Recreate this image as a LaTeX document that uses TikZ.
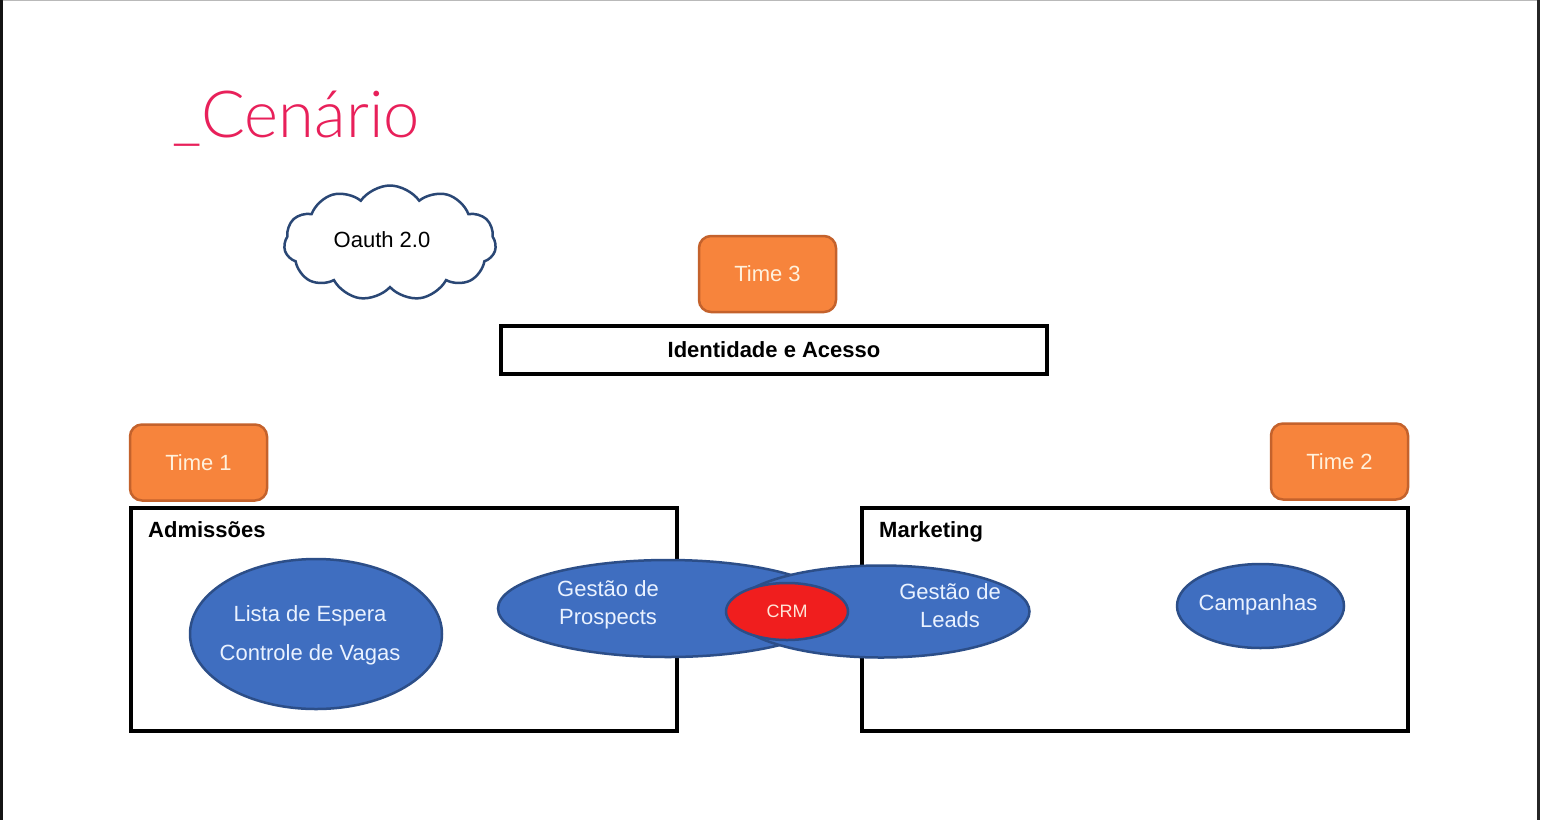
\documentclass[tikz,border=0pt]{standalone}
\usepackage{fontspec}
\setmainfont{Liberation Sans}
\newfontfamily\titlefont{Lato Light}
\usetikzlibrary{shapes.geometric,shapes.symbols}
\definecolor{titlered}{HTML}{E8205A}
\definecolor{cloudblue}{HTML}{2A4775}
\definecolor{teamorange}{HTML}{F7843C}
\definecolor{teamborder}{HTML}{C4622C}
\definecolor{teamtext}{HTML}{FFF1DC}
\definecolor{ellblue}{HTML}{3F6EC0}
\definecolor{ellborder}{HTML}{2C4E88}
\definecolor{elltext}{HTML}{EAF2FF}
\definecolor{crmred}{HTML}{F01E1E}
\definecolor{crmtext}{HTML}{FFE6D8}
\tikzset{
  teambox/.style={rectangle, rounded corners=12pt, fill=teamorange, draw=teamborder,
    line width=2.5pt, minimum width=137pt, minimum height=76pt, inner sep=0pt,
    text=teamtext, font=\fontsize{22}{22}\selectfont},
  areabox/.style={rectangle, draw=black, line width=3.2pt, fill=none, inner sep=0pt},
  arealabel/.style={anchor=base west, inner sep=0pt, font=\bfseries\fontsize{22}{22}\selectfont},
  blueell/.style={ellipse, fill=ellblue, draw=ellborder, line width=2.5pt, inner sep=0pt},
  elllabel/.style={inner sep=0pt, align=center, text=elltext, font=\fontsize{22}{28}\selectfont},
}
\begin{document}
\begin{tikzpicture}[x=1pt,y=-1pt]
\useasboundingbox (0,0) rectangle (1542,820);
\fill[white] (0,0) rectangle (1542,820);
\fill[black!92] (0,0) rectangle (2.5,820);
\fill[black!85] (1537,0) rectangle (1540,820);
\draw[gray!55, line width=1pt] (2.5,0.5) -- (1537,0.5);

% title
\node[anchor=base west, inner sep=0pt, text=titlered,
  font=\titlefont\fontsize{65}{65}\selectfont] (title) at (172,137) {\_Cenário};

% cloud
\node[cloud, cloud puffs=11, cloud puff arc=110, aspect=1.8, draw=cloudblue, fill=white,
  line width=2.5pt, minimum width=212pt, minimum height=115pt, inner sep=0pt] (oauth) at (390,243) {};
\node[inner sep=0pt, font=\fontsize{22}{22}\selectfont] (oauthT) at (382,240) {Oauth 2.0};

% teams
\node[teambox] (time3) at (767.5,274) {Time 3};
\node[teambox] (time1) at (198.5,462.5) {Time 1};
\node[teambox] (time2) at (1339.5,461.5) {Time 2};

% identidade
\node[areabox, minimum width=546pt, minimum height=48pt,
  font=\bfseries\fontsize{22}{22}\selectfont] (ident) at (774,350) {Identidade e Acesso};

% area boxes
\node[areabox, minimum width=546pt, minimum height=223pt] (adm) at (404,619.5) {};
\node[areabox, minimum width=546pt, minimum height=223pt] (mkt) at (1135,619.5) {};
\node[arealabel] (admL) at (148,537) {Admissões};
\node[arealabel] (mktL) at (879,537) {Marketing};

% ellipses
\node[blueell, minimum width=252pt, minimum height=150pt] (lista) at (316,634) {};
\node[elllabel, font=\fontsize{22}{39}\selectfont] (listaT) at (310,635) {Lista de Espera\\Controle de Vagas};

\node[blueell, minimum width=340pt, minimum height=97pt] (prosp) at (668,608.5) {};
\node[blueell, minimum width=297pt, minimum height=92pt] (leads) at (881,611.5) {};
\node[ellipse, fill=crmred, draw=ellborder, line width=2.5pt, inner sep=0pt,
  minimum width=122pt, minimum height=57pt, text=crmtext,
  font=\fontsize{18}{18}\selectfont] (crm) at (787,611.5) {CRM};
\node[elllabel] (prospT) at (608,605) {Gestão de\\Prospects};
\node[elllabel] (leadsT) at (950,606) {Gestão de\\Leads};

\node[blueell, minimum width=167pt, minimum height=84pt] (camp) at (1260.5,606) {};
\node[elllabel] (campT) at (1258,605) {Campanhas};
\end{tikzpicture}
\end{document}
